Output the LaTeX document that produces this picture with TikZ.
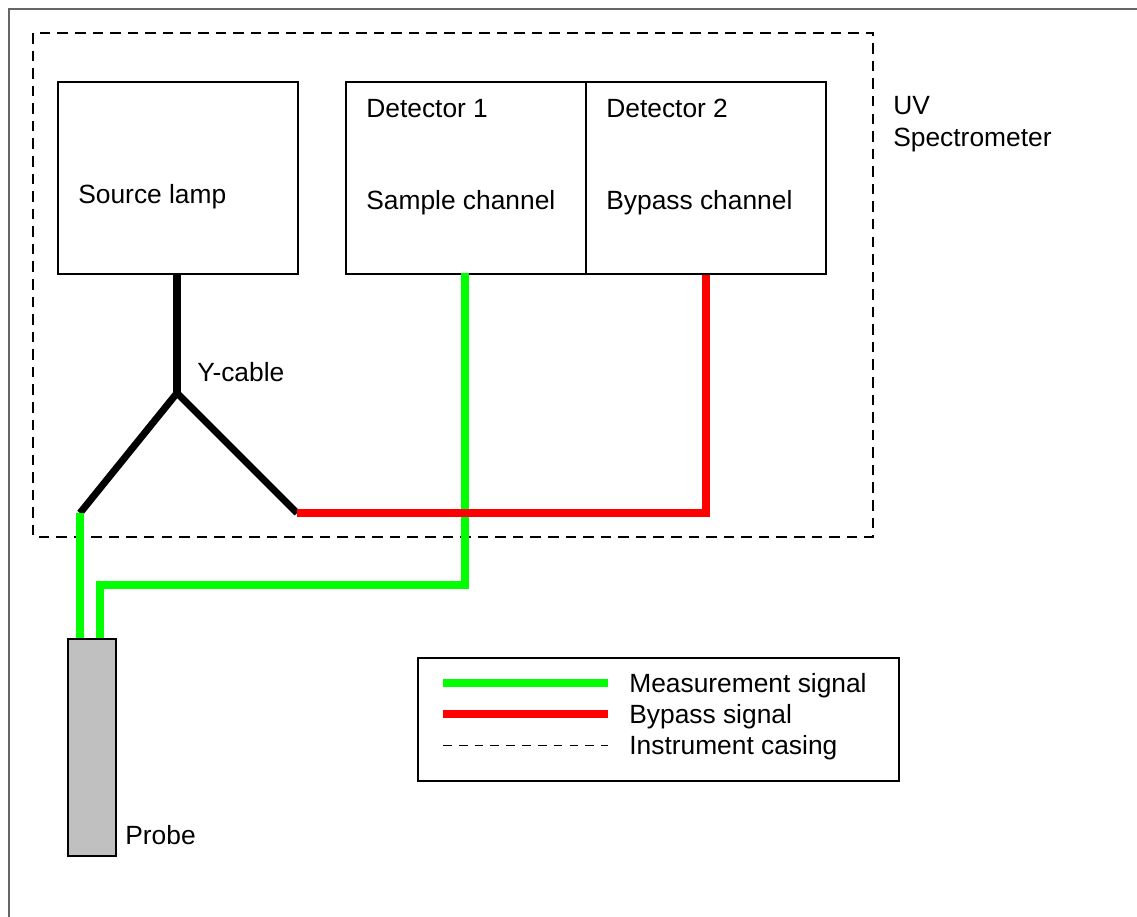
\documentclass[tikz,border=0pt]{standalone}
\usepackage{fontspec}
\setmainfont{Liberation Sans}
\usepackage{xcolor}
\definecolor{sigGreen}{RGB}{0,255,0}
\definecolor{sigRed}{RGB}{255,0,0}
\definecolor{probeGray}{RGB}{192,192,192}

\begin{document}
\begin{tikzpicture}[x=0.02cm, y=-0.02cm,
  font=\fontsize{15}{18}\selectfont,
  unitbox/.style={rectangle, draw, line width=1.1pt, minimum width=4.8cm, minimum height=3.84cm, anchor=north west, inner sep=0pt},
  txt/.style={anchor=base west, inner sep=0pt},
  cable/.style={line width=4pt},
  casing/.style={line width=0.7pt, dash pattern=on 6pt off 4pt}]
\useasboundingbox (0,0) rectangle (1137,917);

% Outer frame
\draw[gray!80!black, line width=0.8pt] (9,917) -- (9,9) -- (1137,9);

% Instrument casing (UV spectrometer)
\draw[casing] (33,33) rectangle (873,537);
\node[txt] (uv) at (893,114) {UV};
\node[txt] (spec) at (893,146) {Spectrometer};

% Source lamp
\node[unitbox] (lamp) at (57,81) {};
\node[txt] at (78,203) {Source lamp};

% Detectors
\node[unitbox] (det1) at (345,81) {};
\node[unitbox] (det2) at (585,81) {};
\node[txt] at (366,117) {Detector 1};
\node[txt] at (366,209) {Sample channel};
\node[txt] at (606,117) {Detector 2};
\node[txt] at (606,209) {Bypass channel};

% Probe
\node[rectangle, draw, fill=probeGray, line width=1.1pt, minimum width=0.96cm, minimum height=4.34cm, anchor=north west, inner sep=0pt] (probe) at (67,638) {};
\node[txt] at (125,844) {Probe};

% Y-cable
\coordinate (fork) at (177,393);
\coordinate (legA) at (80,513);
\coordinate (legB) at (297,513);
\draw[cable] (lamp.south -| fork) -- (fork);
\draw[cable, line join=miter] (legA) -- (fork) -- (legB);
\node[txt] (ylabel) at (197,381) {Y-cable};

% Measurement signal
\draw[cable, sigGreen] (legA) -- (legA |- probe.north);
\draw[cable, sigGreen] (465,273) -- (465,585) -- (100,585) -- (100,638);

% Bypass signal
\draw[cable, sigRed] (legB) -- (706,513) -- (det2.south -| 706,0);

% Legend
\node[rectangle, draw, line width=1.1pt, minimum width=9.62cm, minimum height=2.46cm, anchor=north west, inner sep=0pt] (legend) at (417,657) {};
\draw[cable, sigGreen] (443,683) -- (608,683);
\draw[cable, sigRed] (443,714) -- (608,714);
\draw[line width=0.5pt, dash pattern=on 5pt off 4pt] (443,745) -- (608,745);
\node[txt] at (629,692) {Measurement signal};
\node[txt] at (629,723) {Bypass signal};
\node[txt] at (629,754) {Instrument casing};
\end{tikzpicture}
\end{document}
